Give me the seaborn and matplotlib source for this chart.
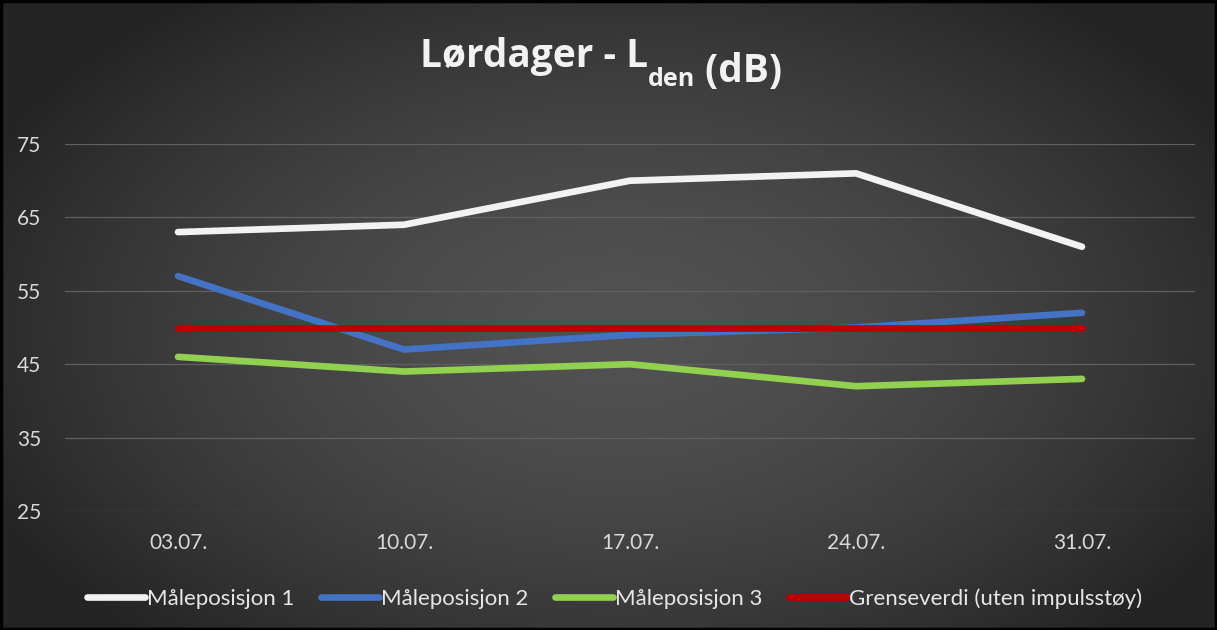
import numpy as np
import pandas as pd
import seaborn as sns
import matplotlib.pyplot as plt
from matplotlib.patches import Rectangle

dates = ['03.07.', '10.07.', '17.07.', '24.07.', '31.07.']
pos1 = [63, 64, 70, 71, 61]
pos2 = [57, 47, 49, 50, 52]
pos3 = [46, 44, 45, 42, 43]
limit = [50, 50, 50, 50, 50]
series_names = ['Måleposisjon 1', 'Måleposisjon 2', 'Måleposisjon 3',
                'Grenseverdi (uten impulsstøy)']
colors = ['#f2f2f2', '#4472c4', '#92d050', '#c00000']
yticks = [25, 35, 45, 55, 65, 75]

df = pd.DataFrame({
    'dato': dates * 4,
    'dB': pos1 + pos2 + pos3 + limit,
    'serie': np.repeat(series_names, len(dates)),
})

sns.set_theme(style='dark')
plt.rcParams['font.family'] = ['Lato', 'DejaVu Sans']

fig = plt.figure(figsize=(12.17, 6.3), dpi=100)

# radial gradient background
bg = fig.add_axes([0, 0, 1, 1], zorder=-10)
yy, xx = np.mgrid[0:630, 0:1217]
d = np.sqrt(((xx - 620) / 700.0) ** 2 + ((yy - 330) / 420.0) ** 2)
d = np.clip(d, 0, 1)
c0, c1 = 0x52 / 255, 0x24 / 255
img = c0 + (c1 - c0) * d ** 1.6
bg.imshow(np.dstack([img, img, img]), aspect='auto', extent=[0, 1, 0, 1])
bg.add_patch(Rectangle((0.001, 0.002), 0.998, 0.996, transform=bg.transAxes,
                       fill=False, ec='black', lw=2.5))
bg.set_axis_off()

ax = fig.add_axes([65 / 1217, 1 - 511 / 630, 1130 / 1217, 367 / 630])
ax.patch.set_alpha(0)

sns.lineplot(data=df, x='dato', y='dB', hue='serie', hue_order=series_names,
             palette=colors, linewidth=4.8, sort=False, ax=ax,
             solid_capstyle='round', legend=False)

ax.set_xlim(-0.5, len(dates) - 0.5)
ax.set_ylim(25, 75)
ax.set_yticks(yticks)
ax.yaxis.grid(True, color='#606060', linewidth=0.9)
ax.xaxis.grid(False)
ax.set_axisbelow(True)
for s in ax.spines.values():
    s.set_visible(False)
ax.set_xlabel('')
ax.set_ylabel('')
ax.tick_params(axis='y', colors='#d9d9d9', labelsize=15, pad=17, length=0)
ax.tick_params(axis='x', colors='#d9d9d9', labelsize=15, pad=16, length=0)

# title with subscript
tkw = dict(color='#f2f2f2', fontweight='bold', family=['Open Sans', 'DejaVu Sans'])
t1 = fig.text(420 / 1217, 1 - 67 / 630, 'Lørdager - L', fontsize=28, ha='left',
              va='baseline', **tkw)
fig.canvas.draw()
t2 = ax.annotate('den', xy=(1, 0), xycoords=t1, xytext=(0, -7),
                 textcoords='offset points', fontsize=18, va='baseline', **tkw)
t3 = ax.annotate(' (dB)', xy=(1, 0), xycoords=t2, xytext=(0, 7),
                 textcoords='offset points', fontsize=28, va='baseline', **tkw)

handles = ax.get_lines()[:4]
leg = fig.legend(handles, series_names, loc='center', bbox_to_anchor=(0.505, 0.05),
                 ncol=4, frameon=False, fontsize=16, handlelength=2.6,
                 handletextpad=0.1, columnspacing=1.2)
for txt in leg.get_texts():
    txt.set_color('#e6e6e6')

fig.savefig('out.png', dpi=100)
